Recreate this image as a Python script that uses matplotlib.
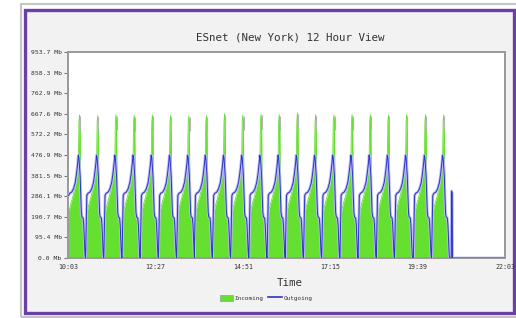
import matplotlib
matplotlib.use('Agg')
import matplotlib.pyplot as plt
from matplotlib.patches import Rectangle
from matplotlib.lines import Line2D
import numpy as np

# values (minutes since 10:03, Mb)
spike_minutes = [19, 49, 79, 109, 139, 169, 199, 228, 258, 288, 318,
                 348, 378, 408, 438, 468, 498, 528, 558, 589, 619]
spike_peaks = [662, 660, 664, 660, 662, 660, 658, 660, 668, 662, 666,
               664, 672, 664, 662, 664, 664, 662, 664, 664, 662]

# one cycle of traffic relative to the spike
in_offsets = [-20, -19, -17, -14, -11, -8, -5, -3, -1.8, -1, 0, 1, 1.8, 2.6, 4, 5.5, 7, 8.5, 9.5]
in_shape = [0, 150, 220, 255, 285, 320, 370, 415, 470, 630, 0, 630, 300, 235, 205, 185, 140, 50, 0]
out_offsets = [-20, -19, -18, -16, -13, -10, -7, -5, -3, -2, -1, 0, 1, 2, 3, 4, 6, 7, 8, 9, 9.7]
out_shape = [0, 150, 290, 300, 305, 320, 350, 390, 440, 476, 465, 420, 380, 300, 210, 190, 185, 150, 90, 20, 0]

start_in, start_out = 230, 290
tail_min_out = [631.5, 632, 633, 633.5, 720]
tail_out = [0, 310, 300, 0, 0]
tail_min_in = [720]
tail_in = [0]

y_ticks = [0.0, 95.4, 190.7, 286.1, 381.5, 476.9, 572.2, 667.6, 762.9, 858.3, 953.7]
x_ticks = [0, 144, 288, 432, 576, 720]
x_labels = ['10:03', '12:27', '14:51', '17:15', '19:39', '22:03']

GREEN = '#66e030'
BLUE = '#2a34c8'
LAV = '#bcbcf2'
W, H = 516, 318


def build(offsets, shape, start_val, tail_t, tail_v, peak_idx=None):
    t = [0.0]
    v = [start_val]
    for s, p in zip(spike_minutes, spike_peaks):
        vals = list(shape)
        if peak_idx is not None:
            vals[peak_idx] = p
        for o, val in zip(offsets, vals):
            if s + o > 0:
                t.append(s + o)
                v.append(val)
    t += tail_t
    v += tail_v
    return np.array(t), np.array(v)


t_in, v_in = build(in_offsets, in_shape, start_in, tail_min_in, tail_in, peak_idx=10)
t_out, v_out = build(out_offsets, out_shape, start_out, tail_min_out, tail_out)

fig = plt.figure(figsize=(W / 100, H / 100), dpi=100)
fig.patch.set_facecolor('white')


def fr(x0, y0, x1, y1):
    return (x0 / W, 1 - y1 / H), (x1 - x0) / W, (y1 - y0) / H


xy, w, h = fr(21, 4, 518, 317)
fig.patches.append(Rectangle(xy, w, h, transform=fig.transFigure, fill=False,
                             edgecolor='#c4c4c4', lw=1.5, zorder=-10))
xy, w, h = fr(24.5, 9.5, 513.5, 312.5)
fig.patches.append(Rectangle(xy, w, h, transform=fig.transFigure, facecolor='#f2f2f2',
                             edgecolor='#6a3fa8', lw=2.4, zorder=-9))

ax = fig.add_axes([68 / W, (H - 258) / H, 437 / W, 206 / H])
ax.set_facecolor('white')

ax.fill_between(t_in, v_in, 0, color=GREEN, lw=0, zorder=2)
ax.plot(t_in, v_in, color=GREEN, lw=0.6, zorder=2)
tip_x = [s + 1.2 for s in spike_minutes]
ax.vlines(tip_x, [p - 70 for p in spike_peaks], [p - 5 for p in spike_peaks],
          color='#b4b4b4', lw=0.8, zorder=3)
ax.plot(t_out, v_out, color=LAV, lw=2.0, zorder=3)
ax.plot(t_out, v_out, color=BLUE, lw=0.7, zorder=4)

ax.set_xlim(0, 720)
ax.set_ylim(0, 953.7)
ax.set_yticks(y_ticks)
ax.set_yticklabels(['%.1f Mb' % y for y in y_ticks])
ax.set_xticks(x_ticks)
ax.set_xticklabels(x_labels)
for sp in ax.spines.values():
    sp.set_color('#999999')
    sp.set_linewidth(1.4)
ax.tick_params(axis='y', length=3, width=0.8, color='#777777', pad=1.5,
               labelsize=4.6, labelcolor='#333333')
ax.tick_params(axis='x', length=0, pad=4, labelsize=4.8, labelcolor='#333333')
for lab in ax.get_xticklabels() + ax.get_yticklabels():
    lab.set_family('DejaVu Sans Mono')

fig.text(290 / W, 1 - 38 / H, 'ESnet (New York) 12 Hour View', ha='center', va='center',
         family='DejaVu Sans Mono', fontsize=7.8, color='#333333')
fig.text(290 / W, 1 - 283 / H, 'Time', ha='center', va='center',
         family='DejaVu Sans Mono', fontsize=7.8, color='#333333')

handles = [Rectangle((0, 0), 1, 1, facecolor=GREEN, edgecolor='#999999', lw=0.5),
           Line2D([], [], color=BLUE, lw=1.2)]
fig.legend(handles, ['Incoming', 'Outgoing'], loc='center', bbox_to_anchor=(266 / W, 1 - 298 / H),
           ncol=2, frameon=False, prop={'family': 'DejaVu Sans Mono', 'size': 4.3},
           handlelength=2.2, handleheight=1.2, handletextpad=0.3, columnspacing=0.8,
           labelcolor='#333333')

fig.savefig('out.png', dpi=100, facecolor='white')
